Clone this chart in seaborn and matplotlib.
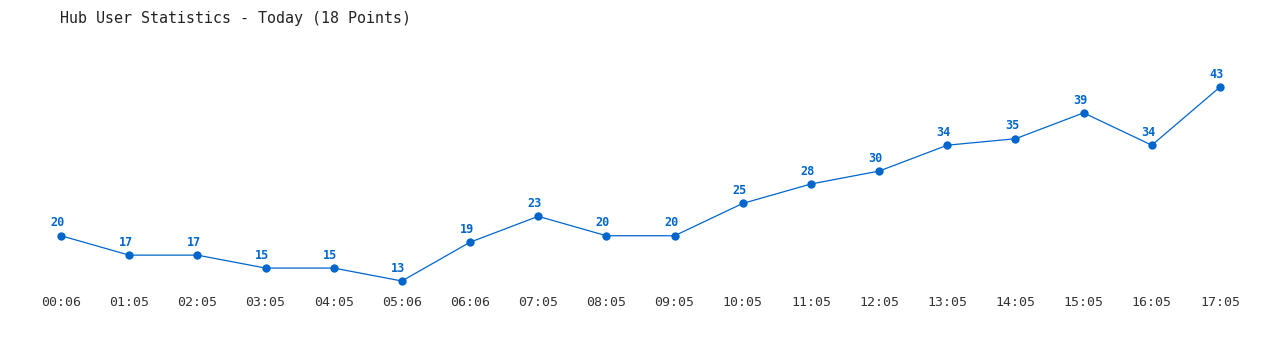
import matplotlib
matplotlib.use("Agg")
import matplotlib.pyplot as plt
import seaborn as sns
import pandas as pd

times = ["00:06", "01:05", "02:05", "03:05", "04:05", "05:06", "06:06", "07:05", "08:05",
         "09:05", "10:05", "11:05", "12:05", "13:05", "14:05", "15:05", "16:05", "17:05"]
users = [20, 17, 17, 15, 15, 13, 19, 23, 20, 20, 25, 28, 30, 34, 35, 39, 34, 43]
title = "Hub User Statistics - Today (18 Points)"

sns.set_theme(style="white")
plt.rcParams['font.family'] = ['DejaVu Sans Mono']

color = "#0066cc"
df = pd.DataFrame({"idx": range(len(times)), "users": users})

fig = plt.figure(figsize=(12.8, 3.5), dpi=100)
ax = fig.add_axes([61 / 1280, 69 / 350, (1220 - 61) / 1280, 194 / 350])
sns.lineplot(data=df, x="idx", y="users", ax=ax, color=color, linewidth=0.9,
             marker="o", markersize=6, markeredgewidth=0, clip_on=False)
for x, v in zip(df["idx"], df["users"]):
    ax.annotate(str(v), (x, v), xytext=(-2.5, 4.5), textcoords="offset points",
                ha="center", va="bottom", color=color, fontsize=8.5, fontweight="bold")
ax.set_xlim(0, len(times) - 1)
ax.set_ylim(13, 43)
ax.set_xticks(range(len(times)))
ax.set_xticklabels(times, fontsize=9.5, color="#333333")
ax.set_yticks([])
ax.tick_params(axis="x", length=0, pad=11)
ax.set_xlabel("")
ax.set_ylabel("")
for s in ax.spines.values():
    s.set_visible(False)
ax.patch.set_alpha(0)
fig.text(60 / 1280, 1 - 18 / 350, title, ha="left", va="center", fontsize=10.8, color="#222222")
fig.savefig("out.png", dpi=100)
